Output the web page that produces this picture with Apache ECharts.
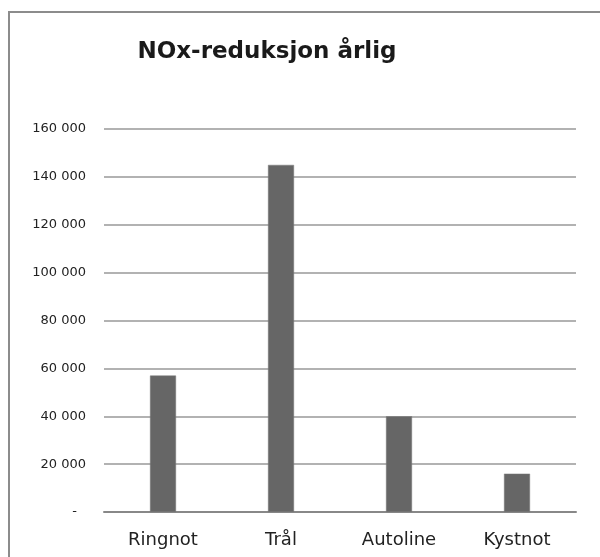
<!DOCTYPE html>
<html>
<head>
<meta charset="utf-8">
<script src="https://cdn.jsdelivr.net/npm/echarts@6/dist/echarts.min.js"></script>
<style>html,body{margin:0;padding:0;background:#fff;}#c{width:600px;height:557px;}</style>
</head>
<body>
<div id="c"></div>
<script>
const categories = ['Ringnot', 'Trål', 'Autoline', 'Kystnot'];
const values = [57000, 145000, 40000, 16000];
const titleText = 'NOx-reduksjon årlig';

const chart = echarts.init(document.getElementById('c'));
chart.setOption({
  animation: false,
  backgroundColor: '#fff',
  textStyle: { fontFamily: 'DejaVu Sans' },
  graphic: [{
    type: 'rect', silent: true, z: -1,
    shape: { x: 9, y: 12, width: 620, height: 580 },
    style: { fill: 'none', stroke: '#8c8c8c', lineWidth: 2 }
  }],
  title: {
    text: titleText, left: 262, top: 36, textAlign: 'center',
    textStyle: { fontFamily: 'DejaVu Sans', fontWeight: 'bold', fontSize: 23, color: '#1a1a1a' }
  },
  grid: { left: 104, right: 24, top: 129, bottom: 45, containLabel: false },
  xAxis: {
    type: 'category', data: categories,
    axisLine: { lineStyle: { color: '#888', width: 2 } },
    axisTick: { show: false },
    axisLabel: { fontSize: 18, color: '#222', margin: 19, fontFamily: 'DejaVu Sans' }
  },
  yAxis: {
    type: 'value', min: 0, max: 160000, interval: 20000,
    axisLine: { show: false }, axisTick: { show: false },
    splitLine: { lineStyle: { color: '#999', width: 1.5 } },
    axisLabel: {
      fontSize: 13, color: '#222', margin: 18, fontFamily: 'DejaVu Sans',
      formatter: v => v === 0 ? '{d|-}' : String(v / 1000) + ' 000',
      rich: { d: { fontSize: 13, color: '#222', padding: [0, 9, 0, 0] } }
    }
  },
  series: [{
    type: 'bar', data: values, barWidth: 26,
    itemStyle: { color: '#666666', borderColor: '#7a7a7a', borderWidth: 0.5 }
  }]
});
</script>
</body>
</html>
